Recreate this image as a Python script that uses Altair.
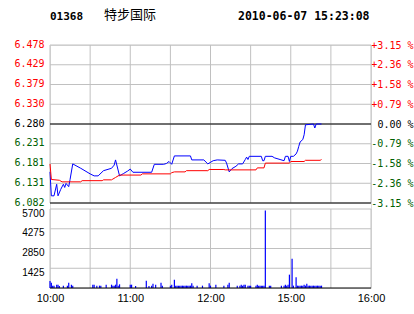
import altair as alt
import pandas as pd

# ---------------- data ----------------
title_code = "01368"
title_name = "特步国际"
title_time = "2010-06-07 15:23:08"

# minutes since 10:00 (trading minutes, 12:30 joins 14:30 at minute 150)
price_min = [0, 1, 3, 5, 6, 8, 10, 11, 12, 14, 15, 17, 23, 30, 33, 36, 40, 46, 48, 49,
             52, 55, 58, 60, 62, 76, 78, 85, 87, 89, 91, 93, 105, 106, 115, 118, 122,
             125, 131, 132, 134, 136, 139, 141, 144, 146, 147, 148, 149, 158, 159, 160,
             161, 166, 168, 172, 175, 176, 178, 179, 180, 182, 184, 185, 186, 187, 189,
             190, 191, 197, 198, 199, 203]
price_val = [6.160, 6.100, 6.100, 6.129, 6.100, 6.116, 6.129, 6.121, 6.131, 6.123, 6.141,
             6.180, 6.169, 6.155, 6.150, 6.150, 6.163, 6.169, 6.177, 6.190, 6.150, 6.156,
             6.162, 6.167, 6.159, 6.159, 6.179, 6.179, 6.181, 6.186, 6.179, 6.200, 6.200,
             6.190, 6.190, 6.180, 6.188, 6.190, 6.189, 6.182, 6.160, 6.168, 6.174, 6.180,
             6.180, 6.191, 6.197, 6.191, 6.199, 6.199, 6.188, 6.188, 6.199, 6.199, 6.195,
             6.191, 6.188, 6.199, 6.199, 6.186, 6.199, 6.199, 6.205, 6.212, 6.224, 6.235,
             6.241, 6.253, 6.278, 6.280, 6.270, 6.280, 6.280]

avg_min = [0, 1, 7, 9, 23, 24, 39, 40, 46, 47, 49, 52, 68, 69, 90, 91, 93, 101, 102, 118,
           119, 130, 131, 154, 155, 160, 161, 179, 180, 190, 191, 202, 203]
avg_val = [6.180, 6.141, 6.139, 6.135, 6.135, 6.138, 6.138, 6.140, 6.140, 6.142, 6.146,
           6.152, 6.152, 6.155, 6.155, 6.158, 6.160, 6.160, 6.163, 6.163, 6.166, 6.166,
           6.165, 6.165, 6.170, 6.170, 6.182, 6.182, 6.186, 6.186, 6.189, 6.189, 6.191]

vol_min = [0, 1, 2, 3, 5, 6, 7, 10, 13, 14, 16, 17, 32, 33, 35, 37, 38, 42, 46, 47, 48, 49,
           50, 51, 52, 60, 61, 64, 72, 74, 76, 77, 79, 83, 84, 90, 91, 93, 94, 95, 96, 97,
           98, 99, 100, 101, 102, 103, 104, 105, 106, 107, 110, 114, 119, 120, 124, 130,
           133, 134, 140, 142, 143, 144, 145, 146, 148, 149, 150, 154, 155, 156, 157, 158,
           159, 160, 161, 164, 165, 173, 175, 176, 177, 178, 179, 181, 182, 184, 185, 186,
           187, 188, 189, 190, 191, 192, 193, 194, 195, 196, 197, 198, 199, 200, 201, 202,
           203]
vol_val = [505, 385, 170, 170, 240, 240, 145, 170, 170, 385, 240, 170, 240, 240, 170, 170,
           170, 240, 240, 170, 170, 240, 674, 170, 265, 240, 240, 145, 530, 145, 170, 313,
           240, 385, 170, 170, 240, 600, 170, 170, 170, 170, 170, 170, 170, 170, 170, 170,
           170, 170, 337, 170, 170, 170, 337, 170, 240, 170, 240, 385, 170, 170, 240, 170,
           240, 240, 170, 170, 170, 170, 240, 170, 170, 170, 170, 170, 5585, 170, 170, 170,
           170, 240, 170, 240, 963, 2118, 170, 770, 170, 170, 170, 170, 170, 240, 170, 313,
           170, 170, 170, 170, 170, 170, 170, 170, 170, 170, 170]

price_ticks = [6.082, 6.1315, 6.181, 6.2305, 6.280, 6.3295, 6.379, 6.4285, 6.478]
price_labels = ["6.082", "6.131", "6.181", "6.231", "6.280", "6.330", "6.379", "6.429", "6.478"]
pct_labels = ["-3.15 %", "-2.36 %", "-1.58 %", "-0.79 %", "0.00 %",
              "+0.79 %", "+1.58 %", "+2.36 %", "+3.15 %"]
prev_close = 6.280
black_price_lines = [6.082, 6.280]
vol_ticks = [1425, 2850, 4275, 5700]
time_ticks = [0, 60, 120, 180, 240]
time_labels = ["10:00", "11:00", "12:00", "15:00", "16:00"]
grid_minutes = [0, 30, 60, 90, 120, 150, 180, 210, 240]

# ---------------- styling ----------------
GRID = "#c0c0c0"
RED = "#ff0000"
GREEN = "#006000"
BLUE = "#0000ff"
W, H = 321, 243
PH = 158          # price panel height
VT = 164          # volume panel top

price_scale = alt.Scale(domain=[6.082, 6.478], range=[PH, 0], nice=False, zero=False)
vol_scale = alt.Scale(domain=[0, 5700], range=[H, VT], nice=False, zero=False)


def arr(lst):
    return "[" + ",".join("'" + s + "'" for s in lst) + "]"


color_cond = {
    "condition": [
        {"test": f"datum.value > {prev_close + 0.0001}", "value": RED},
        {"test": f"datum.value < {prev_close - 0.0001}", "value": GREEN},
    ],
    "value": "#000000",
}
idx = f"round((datum.value-{price_ticks[0]})/{price_ticks[1]-price_ticks[0]})"

left_axis = alt.Axis(values=price_ticks, labelExpr=arr(price_labels) + "[" + idx + "]",
                     orient="left", grid=False, ticks=False, domain=False, title=None,
                     labelFont="DejaVu Sans Mono", labelFontSize=10, labelPadding=6,
                     labelColor=color_cond, labelFlush=False, labelOverlap=False,
                     labelBaseline="middle", labelOffset=-1)
right_axis = alt.Axis(values=price_ticks, labelExpr=arr(pct_labels) + "[" + idx + "]",
                      orient="right", grid=False, ticks=False, domain=False, title=None,
                      labelFont="DejaVu Sans Mono", labelFontSize=10, labelPadding=42,
                      labelAlign="right", labelColor=color_cond, labelFlush=False,
                      labelOverlap=False, labelBaseline="middle")
vol_axis = alt.Axis(values=vol_ticks, format="d", orient="left", grid=False, ticks=False,
                    domain=False, title=None,
                    labelFont="Liberation Sans Narrow, Liberation Sans, Arial",
                    labelFontSize=10, labelPadding=6, labelColor="#000000",
                    labelFlush=False, labelOverlap=False, labelOffset=4)
x_axis = alt.Axis(values=time_ticks, labelExpr=arr(time_labels) + "[round(datum.value/60)]",
                  grid=False, ticks=False, domain=False, title=None,
                  labelFont="Liberation Sans", labelFontSize=11, labelColor="#000000",
                  labelPadding=4, labelFlush=False, labelOverlap=False)
x_enc = alt.X("m:Q", scale=alt.Scale(domain=[0, 240], nice=False, zero=False), axis=x_axis)

price_df = pd.DataFrame({"m": price_min, "p": price_val})
avg_df = pd.DataFrame({"m": avg_min, "p": avg_val})
vol_df = pd.DataFrame({"m": vol_min, "v": vol_val})
ptick_df = pd.DataFrame({"p": price_ticks})
pblack_df = pd.DataFrame({"p": black_price_lines})
vgrid_df = pd.DataFrame({"v": vol_ticks})
vblack_df = pd.DataFrame({"v": [0]})
gm_df = pd.DataFrame({"m": grid_minutes})

p_hgrid = alt.Chart(ptick_df).mark_rule(color=GRID, strokeWidth=1).encode(
    y=alt.Y("p:Q", scale=price_scale, axis=None))
p_vgrid = alt.Chart(gm_df).mark_rule(color=GRID, strokeWidth=1).encode(
    x=x_enc, y=alt.YDatum(6.082, scale=price_scale, axis=None), y2=alt.datum(6.478))
p_black = alt.Chart(pblack_df).mark_rule(color="#000000", strokeWidth=1).encode(
    y=alt.Y("p:Q", scale=price_scale, axis=None))
v_hgrid = alt.Chart(vgrid_df).mark_rule(color=GRID, strokeWidth=1).encode(
    y=alt.Y("v:Q", scale=vol_scale, axis=None))
v_vgrid = alt.Chart(gm_df).mark_rule(color=GRID, strokeWidth=1).encode(
    x=x_enc, y=alt.YDatum(0, scale=vol_scale, axis=None), y2=alt.datum(5700))
v_black = alt.Chart(vblack_df).mark_rule(color="#000000", strokeWidth=1).encode(
    y=alt.Y("v:Q", scale=vol_scale, axis=None))

price_line = alt.Chart(price_df).mark_line(color=BLUE, strokeWidth=1).encode(
    x=x_enc, y=alt.Y("p:Q", scale=price_scale, axis=left_axis))
avg_line = alt.Chart(avg_df).mark_line(color=RED, strokeWidth=1).encode(
    x=x_enc, y=alt.Y("p:Q", scale=price_scale, axis=right_axis))
vol_bars = alt.Chart(vol_df).mark_rule(color=BLUE, strokeWidth=1.2).encode(
    x=x_enc, y=alt.Y("v:Q", scale=vol_scale, axis=vol_axis), y2=alt.datum(0))

t_code = alt.Chart(pd.DataFrame({"t": [title_code]})).mark_text(
    font="DejaVu Sans Mono", fontWeight="bold", fontSize=11, align="left",
    baseline="middle", color="#000000").encode(
    text="t:N", x=alt.value(0), y=alt.value(-28))
t_name = alt.Chart(pd.DataFrame({"t": [title_name]})).mark_text(
    font="Noto Sans CJK SC", fontSize=13, align="left", baseline="middle",
    color="#000000").encode(text="t:N", x=alt.value(54), y=alt.value(-30))
t_time = alt.Chart(pd.DataFrame({"t": [title_time]})).mark_text(
    font="DejaVu Sans Mono", fontWeight="bold", fontSize=11.5, align="left",
    baseline="middle", color="#000000").encode(
    text="t:N", x=alt.value(188), y=alt.value(-28))

chart = alt.layer(
    p_hgrid, p_vgrid, p_black, v_hgrid, v_vgrid, vol_bars, v_black,
    price_line, avg_line, t_code, t_name, t_time
).resolve_scale(y="independent").properties(
    width=W, height=H,
    autosize=alt.AutoSizeParams(type="none"),
    padding={"left": 50, "top": 45, "right": 43, "bottom": 26},
).configure_view(stroke=None).configure(background="#ffffff")

chart.save("out.html", embed_options={"renderer": "svg", "actions": False})
